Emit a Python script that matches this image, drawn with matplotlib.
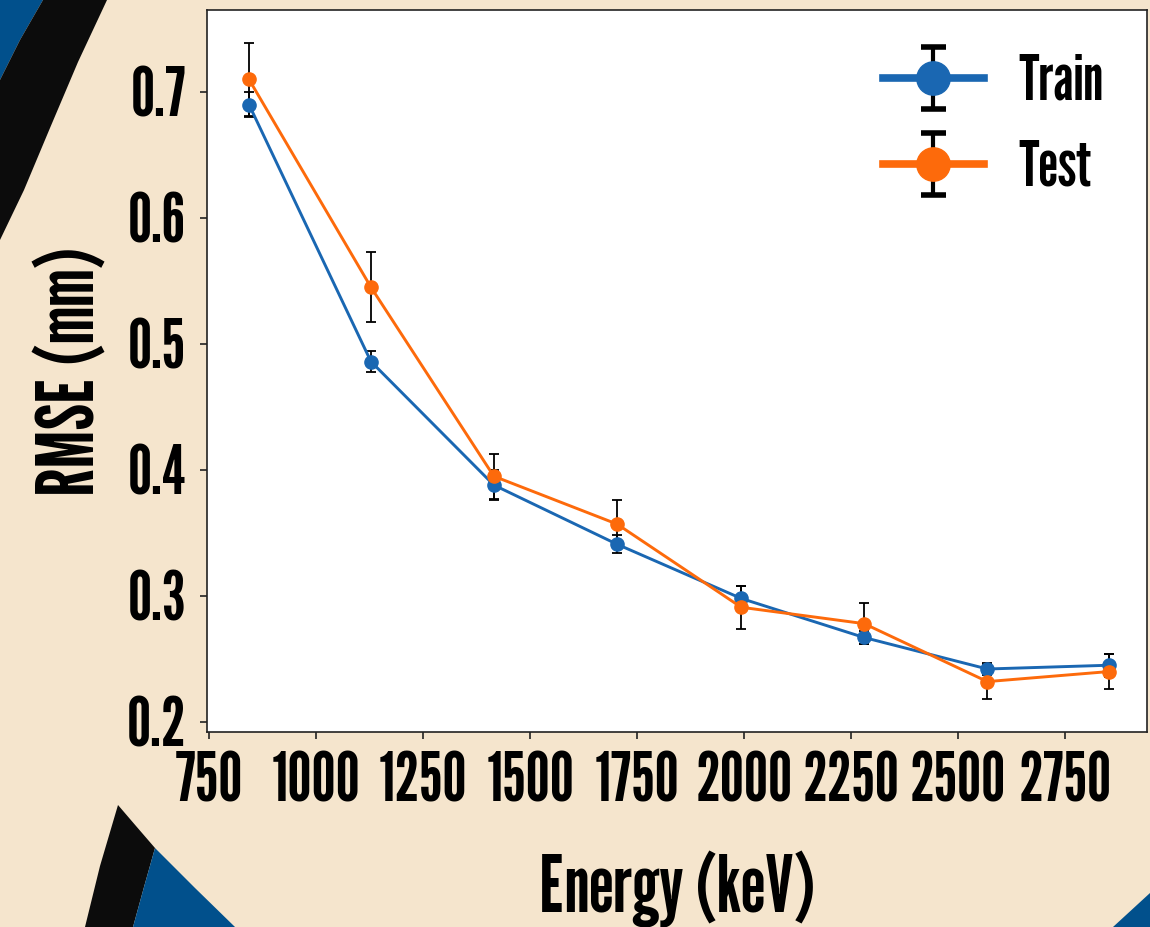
import matplotlib
matplotlib.use("Agg")
import matplotlib.pyplot as plt
from matplotlib.patches import Polygon
from matplotlib.lines import Line2D
from matplotlib.collections import LineCollection
from matplotlib.container import ErrorbarContainer
from matplotlib.legend_handler import HandlerErrorbar

# data
energy = [843, 1128, 1415, 1703, 1993, 2280, 2568, 2853]
train = [0.690, 0.486, 0.388, 0.341, 0.298, 0.267, 0.242, 0.245]
train_err = [0.010, 0.008, 0.012, 0.007, 0.010, 0.005, 0.005, 0.009]
test = [0.710, 0.545, 0.395, 0.357, 0.291, 0.278, 0.232, 0.240]
test_err = [0.029, 0.028, 0.018, 0.019, 0.017, 0.016, 0.014, 0.014]
xticks = [750, 1000, 1250, 1500, 1750, 2000, 2250, 2500, 2750]
yticks = [0.2, 0.3, 0.4, 0.5, 0.6, 0.7]

FONT = ["League Gothic", "Oswald", "Liberation Sans Narrow", "DejaVu Sans"]
BEIGE = "#f5e5cd"
NAVY = "#01508c"
BLACK = "#0c0c0c"
BLUE = "#1a67b2"
ORANGE = "#fd6a0b"

fig = plt.figure(figsize=(11.5, 9.27), dpi=100, facecolor=BEIGE)

# decorative background, drawn in pixel coordinates
bg = fig.add_axes([0, 0, 1, 1], zorder=-10)
bg.set_xlim(0, 1150)
bg.set_ylim(927, 0)
bg.axis("off")
bg.add_patch(Polygon([(0, 0), (43, 0), (20, 40), (0, 80)], closed=True, fc=NAVY, ec="none"))
bg.add_patch(Polygon([(43, 0), (107, 0), (78, 62), (50, 128), (24, 190), (0, 240), (0, 80), (20, 40)],
                     closed=True, fc=BLACK, ec="none"))
bg.add_patch(Polygon([(118, 805), (136, 826), (155, 848), (144, 887), (133, 927), (85, 927), (100, 866)],
                     closed=True, fc=BLACK, ec="none"))
bg.add_patch(Polygon([(155, 848), (195, 888), (235, 927), (133, 927), (144, 887)],
                     closed=True, fc=NAVY, ec="none"))
bg.add_patch(Polygon([(1113, 927), (1150, 893), (1150, 927)], closed=True, fc=NAVY, ec="none"))

ax = fig.add_axes([207 / 1150, 195 / 927, 940 / 1150, 722 / 927])
ax.set_facecolor("white")

ax.errorbar(energy, train, yerr=train_err, color=BLUE, lw=2.1, marker="o", ms=9.5,
            ecolor="black", elinewidth=1.3, capsize=3.5, capthick=1.3, label="Train")
ax.errorbar(energy, test, yerr=test_err, color=ORANGE, lw=2.1, marker="o", ms=9.5,
            ecolor="black", elinewidth=1.3, capsize=3.5, capthick=1.3, label="Test")

ax.set_xlim(745, 2941)
ax.set_ylim(0.192, 0.765)
ax.set_xticks(xticks)
ax.set_yticks(yticks)
ax.set_xticklabels([str(v) for v in xticks], family=FONT, fontsize=49)
ax.set_yticklabels([f"{v:.1f}" for v in yticks], family=FONT, fontsize=49)
ax.tick_params(length=5, width=1.2, color="#222222")
ax.tick_params(axis="y", pad=10)
ax.tick_params(axis="x", pad=9)
for s in ax.spines.values():
    s.set_linewidth(1.2)
    s.set_color("#222222")

ax.set_xlabel("Energy (keV)", family=FONT, fontsize=57, labelpad=26)
ax.set_ylabel("RMSE (mm)", family=FONT, fontsize=57, labelpad=12)

leg = ax.legend(loc="upper right", frameon=False, prop={"family": FONT, "size": 45},
                handlelength=1.62, handletextpad=0.55, labelspacing=0.45,
                borderaxespad=0.3,
                handler_map={ErrorbarContainer: HandlerErrorbar(xerr_size=0.4, yerr_size=0.5)})
for art in leg.findobj(Line2D):
    m = art.get_marker()
    if m == "o":
        art.set_markersize(24)
    elif m in ("_", "|"):
        art.set_markersize(18)
        art.set_markeredgewidth(4)
    else:
        art.set_linewidth(5.5)
for lc in leg.findobj(LineCollection):
    lc.set_linewidth(3)

fig.savefig("out.png", facecolor=BEIGE)
